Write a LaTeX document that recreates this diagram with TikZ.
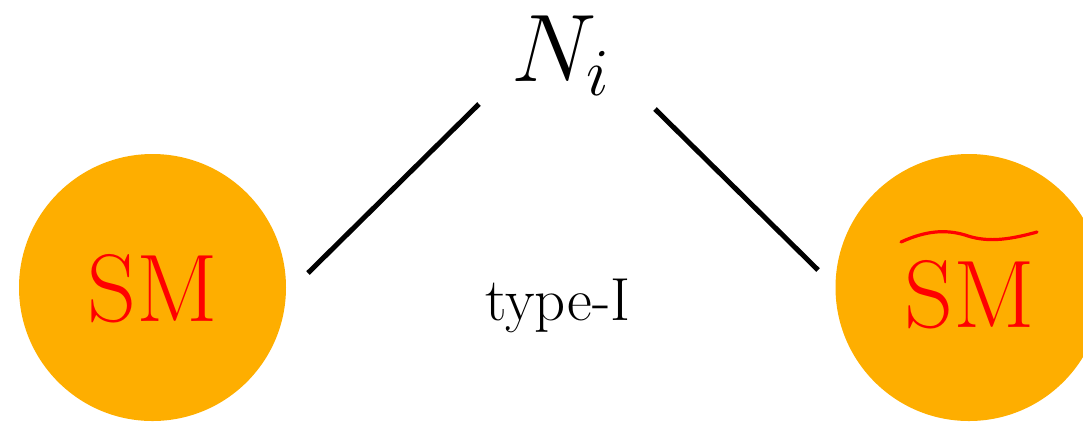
\documentclass[tikz,border=0pt]{standalone}
\usepackage{fix-cm}
\usepackage{fontspec}
\definecolor{ballorange}{RGB}{254,174,0}
\begin{document}
\begin{tikzpicture}[x=0.25pt,y=-0.25pt,
  ball/.style={circle,fill=ballorange,draw=none,minimum size=66.75pt,inner sep=0pt},
  bigtxt/.style={font=\fontsize{24}{29}\selectfont,inner sep=0pt,anchor=base},
  conn/.style={line width=1.25pt,line cap=butt,black},
  tildestroke/.style={red,line width=0.8pt,line cap=round}]
\useasboundingbox (0,0) rectangle (1083,421);
\node[ball] (smL) at (152.5,287.5) {};
\node[ball] (smR) at (969,287.5) {};
\node[bigtxt,text=red] (smLt) at (153,321) {SM};
\node[bigtxt,text=red] (smRt) at (969.5,327) {SM};
\coordinate (t1) at (901,242);
\coordinate (t2) at (1037,232);
\draw[tildestroke] (t1) .. controls (925,231) and (945,229) .. (965,235)
  .. controls (985,242) and (1005,241) .. (t2);
\node[bigtxt] (Ni) at (561,81) {$N_i$};
\node[inner sep=0pt,anchor=base,font=\fontsize{15.2}{18}\selectfont] (type) at (558,320) {type-I};
\coordinate (a1) at (308,273);
\coordinate (a2) at (479,104);
\coordinate (b1) at (655,109);
\coordinate (b2) at (818,270);
\draw[conn] (a1) -- (a2);
\draw[conn] (b1) -- (b2);
\end{tikzpicture}
\end{document}
